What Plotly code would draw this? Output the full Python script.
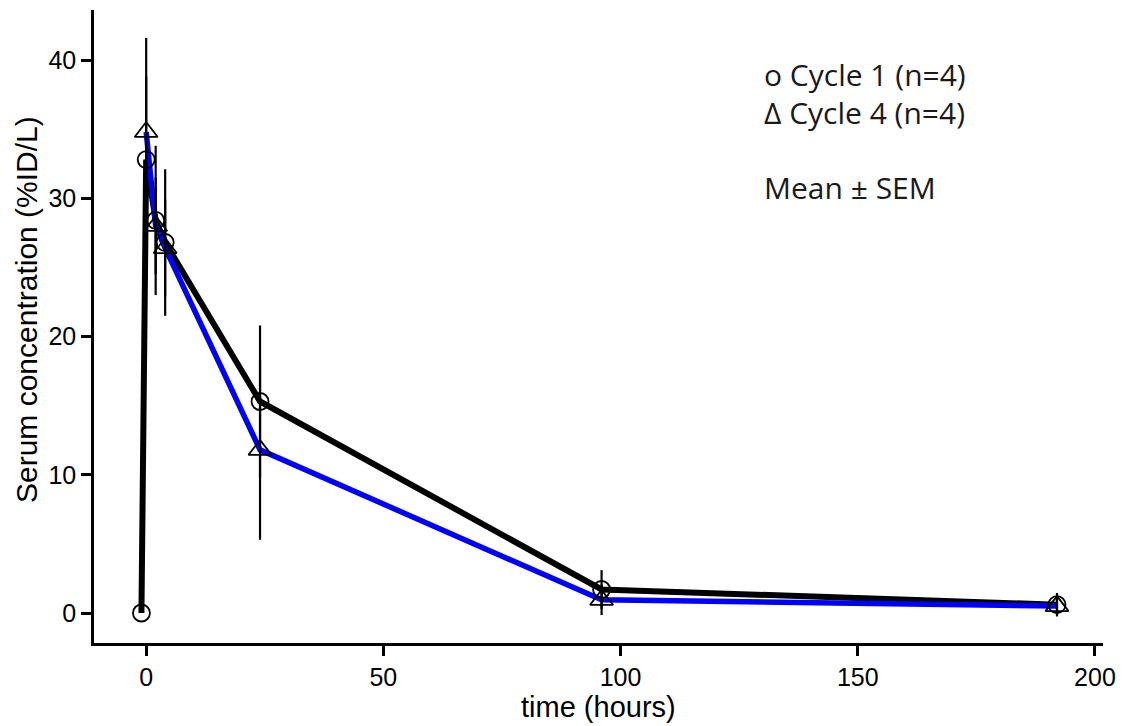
import plotly.graph_objects as go

# Data
time_c1 = [-1, 0, 2, 4, 24, 96, 192]
conc_c1 = [0.0, 32.8, 28.4, 26.8, 15.3, 1.7, 0.6]
sem_c1 = [0.0, 8.8, 5.4, 5.3, 5.5, 1.4, 0.85]

time_c4 = [0, 2, 4, 24, 96, 192]
conc_c4 = [34.8, 28.0, 26.4, 11.8, 0.95, 0.5]
sem_c4 = [4.0, 3.5, 3.5, 6.5, 1.1, 0.65]

x_ticks = [0, 50, 100, 150, 200]
y_ticks = [0, 10, 20, 30, 40]

legend_lines = ["o Cycle 1 (n=4)", "Δ Cycle 4 (n=4)", "Mean ± SEM"]
x_title = "time (hours)"
y_title = "Serum concentration (%ID/L)"

fig = go.Figure()

# Lines
fig.add_trace(go.Scatter(x=time_c1, y=conc_c1, mode="lines",
                         line=dict(color="black", width=6), hoverinfo="skip"))
fig.add_trace(go.Scatter(x=time_c4, y=conc_c4, mode="lines",
                         line=dict(color="#0000ff", width=5.5), hoverinfo="skip"))

# Markers with error bars
fig.add_trace(go.Scatter(x=time_c1, y=conc_c1, mode="markers",
                         marker=dict(symbol="circle-open", size=17, color="black",
                                     line=dict(width=1.8, color="black")),
                         error_y=dict(type="data", array=sem_c1, visible=True,
                                      color="black", thickness=2.2, width=0)))
fig.add_trace(go.Scatter(x=time_c4, y=conc_c4, mode="markers",
                         marker=dict(symbol="triangle-up-open", size=20, color="black",
                                     line=dict(width=1.8, color="black")),
                         error_y=dict(type="data", array=sem_c4, visible=True,
                                      color="black", thickness=2.2, width=0)))

ann_y = [38.99, 36.24, 30.81]
for txt, yy in zip(legend_lines, ann_y):
    fig.add_annotation(x=129.8, y=yy, xref="x", yref="y", text=txt,
                       showarrow=False, xanchor="left", yanchor="middle",
                       font=dict(family="Open Sans", size=30, color="#1a1a1a"))

tickfont = dict(family="Liberation Sans, Arial", size=25, color="black")
titlefont = dict(family="Liberation Sans, Arial", size=29, color="black")
ytitlefont = dict(family="Liberation Sans, Arial", size=30, color="black")

# Axis titles as annotations for exact placement
fig.add_annotation(x=0.5, y=0, xref="paper", yref="paper", text=x_title,
                   showarrow=False, xanchor="center", yanchor="middle", yshift=-64,
                   font=titlefont)
fig.add_annotation(x=0, y=0.526, xref="paper", yref="paper", text=y_title,
                   showarrow=False, xanchor="center", yanchor="middle", xshift=-68,
                   textangle=-90, font=ytitlefont)

# The page body adds an 8px offset, so the figure is 8px smaller and margins compensate
fig.update_layout(
    width=1116, height=718,
    margin=dict(l=86, r=21, t=2, b=83),
    paper_bgcolor="white", plot_bgcolor="white",
    showlegend=False,
    xaxis=dict(range=[-11, 201.7], tickvals=x_ticks, ticks="outside", ticklen=10,
               tickwidth=2.5, tickcolor="black", showline=True, linewidth=2.5,
               linecolor="black", showgrid=False, zeroline=False, tickfont=tickfont,
               automargin=False),
    yaxis=dict(range=[-2.17, 43.62], tickvals=y_ticks, ticks="outside", ticklen=10,
               tickwidth=2.5, tickcolor="black", showline=True, linewidth=2.5,
               linecolor="black", showgrid=False, zeroline=False, tickfont=tickfont,
               automargin=False),
)

fig.write_html("out.html")
